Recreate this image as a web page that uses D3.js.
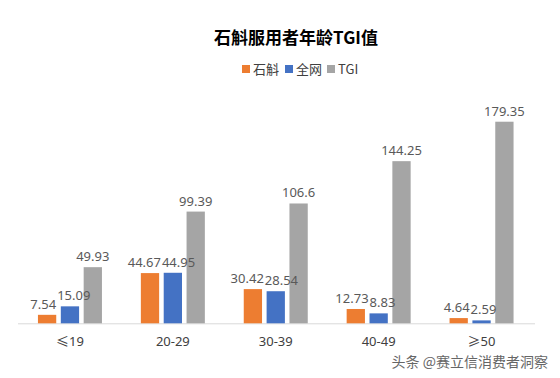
<!DOCTYPE html>
<html><head><meta charset="utf-8">
<script src="https://cdn.jsdelivr.net/npm/d3@7"></script>
<style>body{margin:0;background:#fff;}svg{display:block;font-family:"Microsoft YaHei","Noto Sans CJK SC",sans-serif;}</style>
</head><body>
<svg id="c" width="560" height="378"></svg>
<script>
const categories = ["≤19","20-29","30-39","40-49","≥50"];
const seriesNames = ["石斛","全网","TGI"];
const shihu = [7.54,44.67,30.42,12.73,4.64];
const quanwang = [15.09,44.95,28.54,8.83,2.59];
const tgi = [49.93,99.39,106.6,144.25,179.35];
const colors = ["#ED7D31","#4472C4","#A5A5A5"];
const labelsText = [
  ["7.54","44.67","30.42","12.73","4.64"],
  ["15.09","44.95","28.54","8.83","2.59"],
  ["49.93","99.39","106.6","144.25","179.35"]
];
const allSeries = [shihu, quanwang, tgi];

const svg = d3.select("#c");
const x0 = d3.scaleBand().domain(categories).range([18.5,533]).paddingInner(0).paddingOuter(0);
const x1 = d3.scaleBand().domain([0,1,2]).range([0,64]).paddingInner(0.2);
const y = d3.scaleLinear().domain([0,200]).range([323.3,98.5]);
const groupOffset = (x0.bandwidth()-64)/2;

// axis line
svg.append("line").attr("x1",18).attr("x2",535).attr("y1",y(0)+0.5).attr("y2",y(0)+0.5)
  .attr("stroke","#D9D9D9").attr("stroke-width",1);

const gs = svg.selectAll("g.cat").data(categories).enter().append("g")
  .attr("transform",d=>`translate(${x0(d)+groupOffset},0)`);

allSeries.forEach((s,si)=>{
  gs.append("rect")
    .attr("x",x1(si)).attr("width",x1.bandwidth())
    .attr("y",(d,i)=>y(s[i])).attr("height",(d,i)=>y(0)-y(s[i]))
    .attr("fill",colors[si]);
});
allSeries.forEach((s,si)=>{
  gs.append("text")
    .attr("class","vl s"+si)
    .attr("x",x1(si)+x1.bandwidth()/2)
    .attr("y",(d,i)=>y(s[i])-6)
    .attr("text-anchor","middle")
    .attr("font-family","'Noto Sans',sans-serif")
    .attr("font-size",13).attr("fill","#595959")
    .text((d,i)=>labelsText[si][i]);
});

// resolve overlaps between adjacent value labels within each group
gs.each(function(){
  const g = d3.select(this);
  const t = [0,1,2].map(si=>g.select("text.s"+si).node());
  for (let k=0;k<2;k++){
    const a=t[k], b=t[k+1];
    const ax=+a.getAttribute("x"), bx=+b.getAttribute("x");
    const ay=+a.getAttribute("y"), by=+b.getAttribute("y");
    if (Math.abs(ay-by) > 14) continue;
    const aw=a.getComputedTextLength(), bw=b.getComputedTextLength();
    const overlap = (ax+aw/2) - (bx-bw/2) + 1;
    if (overlap>0){
      a.setAttribute("x", ax-overlap/2);
      b.setAttribute("x", bx+overlap/2);
    }
  }
});

// category labels
svg.selectAll("text.cat").data(categories).enter().append("text")
  .attr("x",d=>x0(d)+x0.bandwidth()/2).attr("y",346)
  .attr("text-anchor","middle").attr("font-size",13).attr("fill","#404040")
  .attr("font-family","'Noto Sans','Noto Sans CJK SC',sans-serif")
  .text(d=>d);

// title
svg.append("text").attr("x",296).attr("y",44).attr("text-anchor","middle")
  .attr("font-size",17).attr("font-weight","bold").attr("fill","#000")
  .text("石斛服用者年龄TGI值");

// legend
const leg = [{x:242},{x:285},{x:327}];
leg.forEach((l,i)=>{
  svg.append("rect").attr("x",l.x).attr("y",65).attr("width",8).attr("height",8).attr("fill",colors[i]);
  svg.append("text").attr("x",l.x+11).attr("y",74).attr("font-size",13).attr("fill","#404040").text(seriesNames[i]);
});

// watermark
svg.append("text").attr("x",548).attr("y",367).attr("text-anchor","end")
  .attr("font-size",14).attr("fill","#666").text("头条 @赛立信消费者洞察");
</script>
</body></html>
